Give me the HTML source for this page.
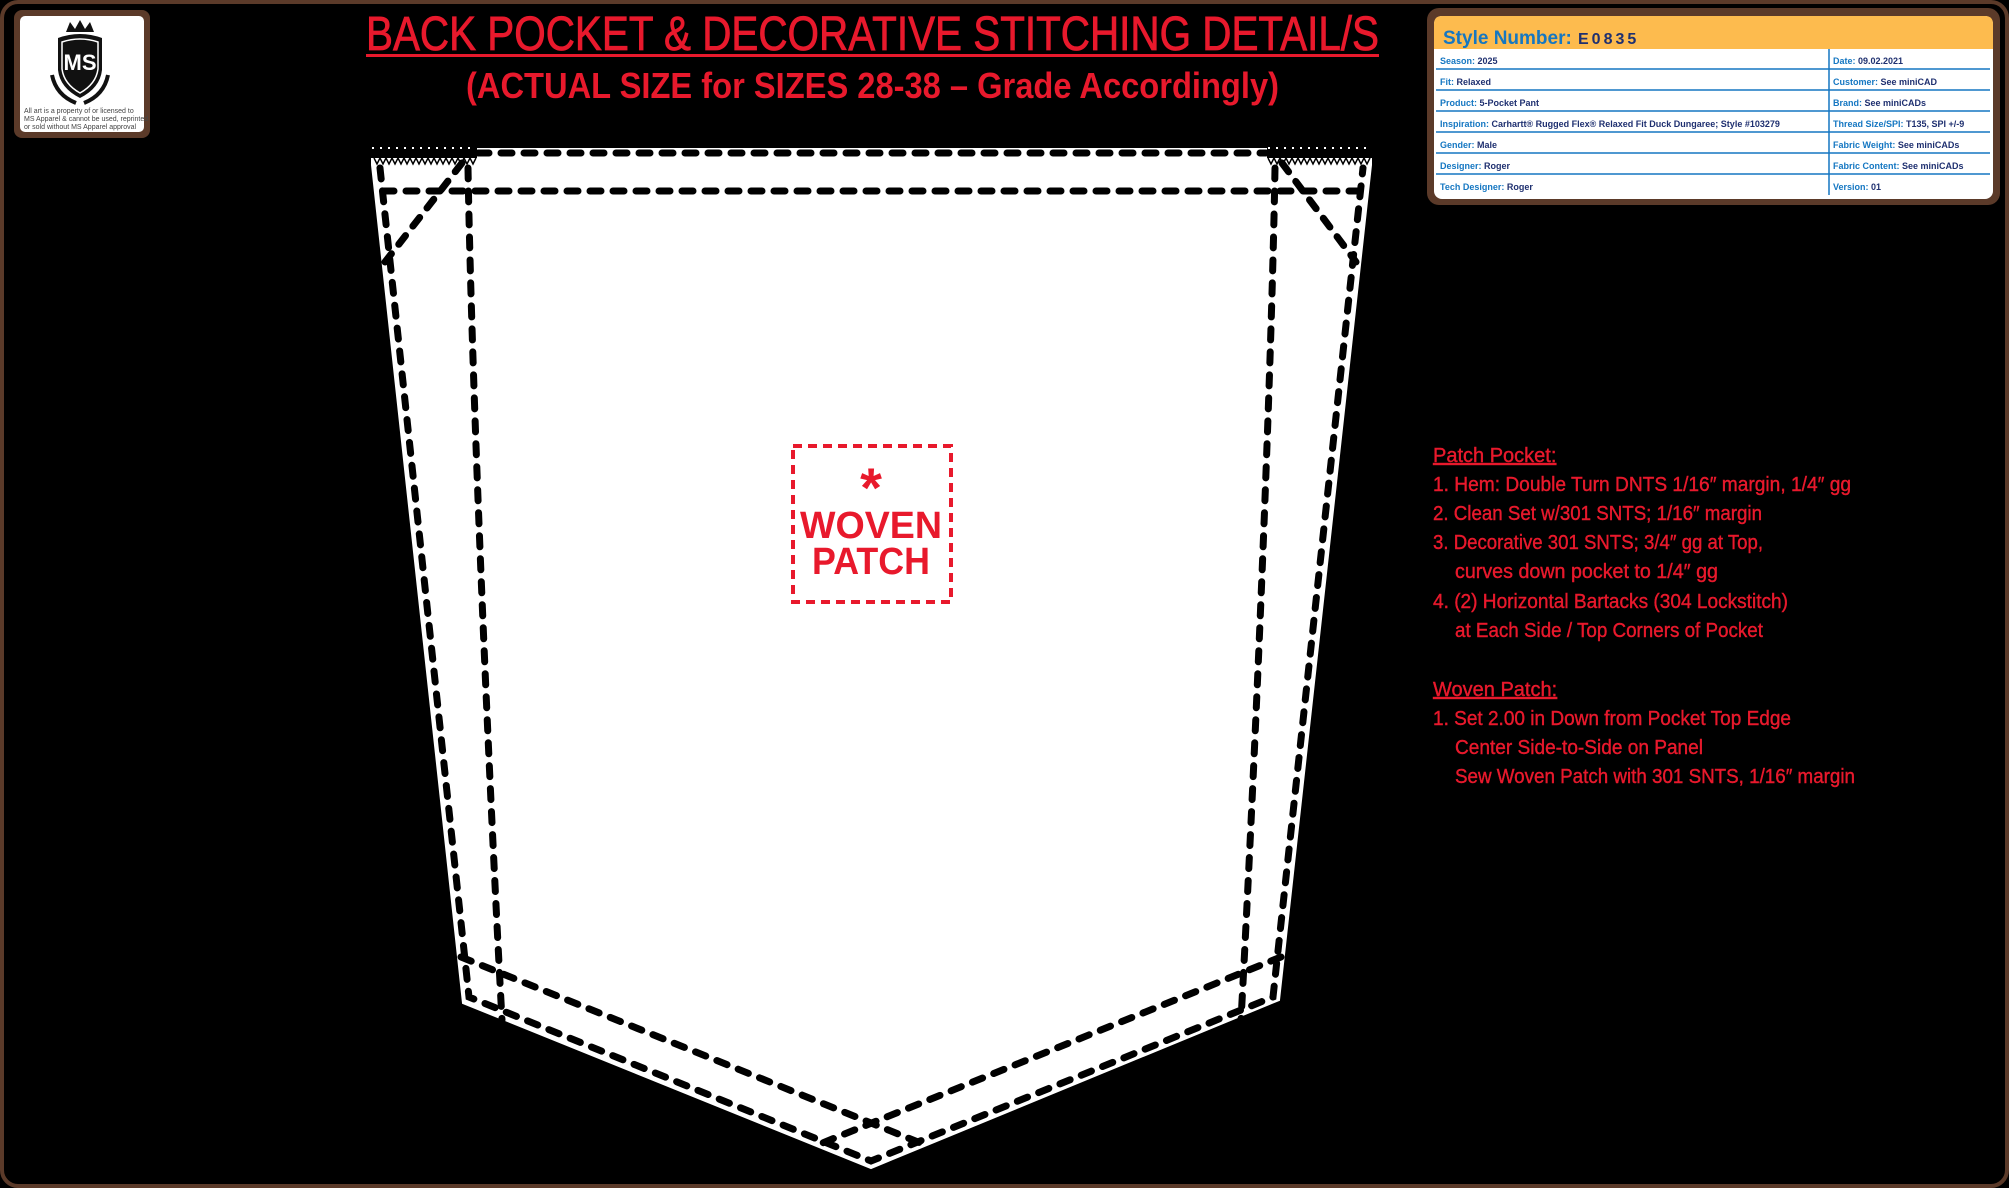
<!DOCTYPE html>
<html><head><meta charset="utf-8"><style>
html,body{margin:0;padding:0;background:#000;}
svg{display:block;}
text{font-family:"Liberation Sans",sans-serif;}
</style></head><body>
<svg width="2009" height="1188" viewBox="0 0 2009 1188" xmlns="http://www.w3.org/2000/svg">
<rect x="0" y="0" width="2009" height="1188" fill="#000"/>
<rect x="2" y="2" width="2005" height="1184" rx="16" fill="none" stroke="#5b3a29" stroke-width="4"/>

<!-- logo -->
<rect x="14" y="10" width="136" height="128" rx="8" fill="#5b3a29"/>
<rect x="20" y="16" width="124" height="116" rx="5" fill="#fff"/>
<path d="M66 32 L70 22 L75 29 L80 20 L85 29 L90 22 L94 32 Z" fill="#111"/>
<path d="M58 38 Q80 30 102 38 L102 70 Q100 88 80 98 Q60 88 58 70 Z" fill="#111"/>
<path d="M62 42 Q80 36 98 42 L98 69 Q96 84 80 93 Q64 84 62 69 Z" fill="none" stroke="#fff" stroke-width="1.5"/>
<text x="80" y="70" font-family="Liberation Serif,serif" font-size="22" fill="#fff" text-anchor="middle" font-weight="bold">MS</text>
<path d="M52 75 Q56 95 76 103 M108 75 Q104 95 84 103" stroke="#111" stroke-width="4" fill="none"/>
<text x="24" y="113" font-size="7" fill="#444">All art is a property of or licensed to</text>
<text x="24" y="121" font-size="7" fill="#444">MS Apparel &amp; cannot be used, reprinted</text>
<text x="24" y="129" font-size="7" fill="#444">or sold without MS Apparel approval</text>

<!-- title -->
<text x="366" y="50" font-size="48" fill="#e8192c" stroke="#e8192c" stroke-width="0.8" textLength="1013" lengthAdjust="spacingAndGlyphs">BACK POCKET &amp; DECORATIVE STITCHING DETAIL/S</text>
<rect x="366" y="54" width="1013" height="3" fill="#e8192c"/>
<text x="466" y="98" font-size="36" font-weight="bold" fill="#e8192c" textLength="813" lengthAdjust="spacingAndGlyphs">(ACTUAL SIZE for SIZES 28-38 – Grade Accordingly)</text>

<!-- pocket -->
<polygon points="372,165 372,150 1371,150 1371,165 1279,1000 871,1168 463,1003" fill="#fff" stroke="#fff" stroke-width="2"/>
<rect x="370" y="140" width="108" height="18" fill="#000"/>
<rect x="1266" y="140" width="108" height="18" fill="#000"/>
<line x1="372" y1="148" x2="476" y2="148" stroke="#fff" stroke-width="2" stroke-dasharray="2 6"/>
<line x1="1268" y1="148" x2="1372" y2="148" stroke="#fff" stroke-width="2" stroke-dasharray="2 6"/>
<rect x="477" y="148" width="790" height="12" fill="#fff"/>
<g fill="#fff">
<path d="M372 165 L372 158 L476 158 L476 165 Z"/>
<path d="M1268 165 L1268 158 L1371 158 L1371 165 Z"/>
</g>
<path d="M374 158 l3 6 l3 -6 l3 6 l3 -6 l3 6 l3 -6 l3 6 l3 -6 l3 6 l3 -6 l3 6 l3 -6 l3 6 l3 -6 l3 6 l3 -6 l3 6 l3 -6 l3 6 l3 -6 l3 6 l3 -6 l3 6 l3 -6 l3 6 l3 -6 l3 6 l3 -6 l3 6 l3 -6 l3 6 l3 -6 l3 6 l3 -6" fill="none" stroke="#000" stroke-width="1.5"/>
<path d="M1268 158 l3 6 l3 -6 l3 6 l3 -6 l3 6 l3 -6 l3 6 l3 -6 l3 6 l3 -6 l3 6 l3 -6 l3 6 l3 -6 l3 6 l3 -6 l3 6 l3 -6 l3 6 l3 -6 l3 6 l3 -6 l3 6 l3 -6 l3 6 l3 -6 l3 6 l3 -6 l3 6 l3 -6 l3 6 l3 -6 l3 6 l3 -6" fill="none" stroke="#000" stroke-width="1.5"/>

<g fill="none" stroke="#000" stroke-width="7" stroke-linecap="round" stroke-dasharray="11 12">
<line x1="478" y1="153" x2="1266" y2="153"/>
<polyline points="380,168 469,997 871,1161 1273,997 1363,168"/>
<line x1="383" y1="191" x2="1360" y2="191"/>
<path d="M468 168 C472 400 490 800 502 1020"/>
<path d="M1275 168 C1271 400 1253 800 1241 1020"/>
<line x1="461" y1="957" x2="923" y2="1144"/>
<line x1="1281" y1="957" x2="820" y2="1144"/>
<line x1="462" y1="163" x2="385" y2="262"/>
<line x1="1282" y1="163" x2="1356" y2="262"/>
</g>

<!-- woven patch -->
<rect x="793" y="446" width="158" height="156" fill="none" stroke="#e8192c" stroke-width="4" stroke-dasharray="9 6"/>
<text x="871" y="507" font-size="56" font-weight="bold" fill="#e8192c" text-anchor="middle">*</text>
<text x="871" y="538" font-size="38" font-weight="bold" fill="#e8192c" text-anchor="middle" textLength="142" lengthAdjust="spacingAndGlyphs">WOVEN</text>
<text x="871" y="574" font-size="38" font-weight="bold" fill="#e8192c" text-anchor="middle" textLength="118" lengthAdjust="spacingAndGlyphs">PATCH</text>

<!-- spec table -->
<rect x="1427" y="8" width="573" height="197" rx="12" fill="#5b3a29"/>
<rect x="1434" y="16" width="559" height="183" rx="8" fill="#fff"/>
<path d="M1434 49 L1434 24 Q1434 16 1442 16 L1985 16 Q1993 16 1993 24 L1993 49 Z" fill="#fdbb4e"/>
<text x="1443" y="44" font-size="19" font-weight="bold" fill="#1577c2">Style Number:</text>
<text x="1578" y="44" font-size="16" font-weight="bold" fill="#1f3070" letter-spacing="3">E0835</text>
<g stroke="#1577c2" stroke-width="1.5">
<line x1="1436" y1="69" x2="1990" y2="69"/>
<line x1="1436" y1="90" x2="1990" y2="90"/>
<line x1="1436" y1="111" x2="1990" y2="111"/>
<line x1="1436" y1="132" x2="1990" y2="132"/>
<line x1="1436" y1="153" x2="1990" y2="153"/>
<line x1="1436" y1="174" x2="1990" y2="174"/>
<line x1="1829" y1="49" x2="1829" y2="195"/>
</g>
<g font-size="9" font-weight="bold">
<text x="1440" y="64"><tspan fill="#1577c2">Season:</tspan><tspan fill="#1f3070">  2025</tspan></text>
<text x="1440" y="85"><tspan fill="#1577c2">Fit:</tspan><tspan fill="#1f3070">  Relaxed</tspan></text>
<text x="1440" y="106"><tspan fill="#1577c2">Product:</tspan><tspan fill="#1f3070">  5-Pocket Pant</tspan></text>
<text x="1440" y="127"><tspan fill="#1577c2">Inspiration:</tspan><tspan fill="#1f3070"> Carhartt® Rugged Flex® Relaxed Fit Duck Dungaree; Style #103279</tspan></text>
<text x="1440" y="148"><tspan fill="#1577c2">Gender:</tspan><tspan fill="#1f3070">  Male</tspan></text>
<text x="1440" y="169"><tspan fill="#1577c2">Designer:</tspan><tspan fill="#1f3070">  Roger</tspan></text>
<text x="1440" y="190"><tspan fill="#1577c2">Tech Designer:</tspan><tspan fill="#1f3070">  Roger</tspan></text>
<text x="1833" y="64"><tspan fill="#1577c2">Date:</tspan><tspan fill="#1f3070">  09.02.2021</tspan></text>
<text x="1833" y="85"><tspan fill="#1577c2">Customer:</tspan><tspan fill="#1f3070">  See miniCAD</tspan></text>
<text x="1833" y="106"><tspan fill="#1577c2">Brand:</tspan><tspan fill="#1f3070"> See miniCADs</tspan></text>
<text x="1833" y="127"><tspan fill="#1577c2">Thread Size/SPI:</tspan><tspan fill="#1f3070"> T135, SPI +/-9</tspan></text>
<text x="1833" y="148"><tspan fill="#1577c2">Fabric Weight:</tspan><tspan fill="#1f3070"> See miniCADs</tspan></text>
<text x="1833" y="169"><tspan fill="#1577c2">Fabric Content:</tspan><tspan fill="#1f3070"> See miniCADs</tspan></text>
<text x="1833" y="190"><tspan fill="#1577c2">Version:</tspan><tspan fill="#1f3070">  01</tspan></text>
</g>

<!-- notes -->
<g font-size="20" fill="#e8192c" stroke="#e8192c" stroke-width="0.4">
<text x="1433" y="462" text-decoration="underline">Patch Pocket:</text>
<text x="1433" y="491" textLength="418" lengthAdjust="spacingAndGlyphs">1. Hem: Double Turn DNTS 1/16″ margin, 1/4″ gg</text>
<text x="1433" y="520" textLength="329" lengthAdjust="spacingAndGlyphs">2. Clean Set w/301 SNTS; 1/16″ margin</text>
<text x="1433" y="549" textLength="330" lengthAdjust="spacingAndGlyphs">3. Decorative 301 SNTS; 3/4″ gg at Top,</text>
<text x="1455" y="578" textLength="263" lengthAdjust="spacingAndGlyphs">curves down pocket to 1/4″ gg</text>
<text x="1433" y="608" textLength="355" lengthAdjust="spacingAndGlyphs">4. (2) Horizontal Bartacks (304 Lockstitch)</text>
<text x="1455" y="637" textLength="308" lengthAdjust="spacingAndGlyphs">at Each Side / Top Corners of Pocket</text>
<text x="1433" y="696" text-decoration="underline">Woven Patch:</text>
<text x="1433" y="725" textLength="358" lengthAdjust="spacingAndGlyphs">1. Set 2.00 in Down from Pocket Top Edge</text>
<text x="1455" y="754" textLength="248" lengthAdjust="spacingAndGlyphs">Center Side-to-Side on Panel</text>
<text x="1455" y="783" textLength="400" lengthAdjust="spacingAndGlyphs">Sew Woven Patch with 301 SNTS, 1/16″ margin</text>
</g>
</svg>
</body></html>
